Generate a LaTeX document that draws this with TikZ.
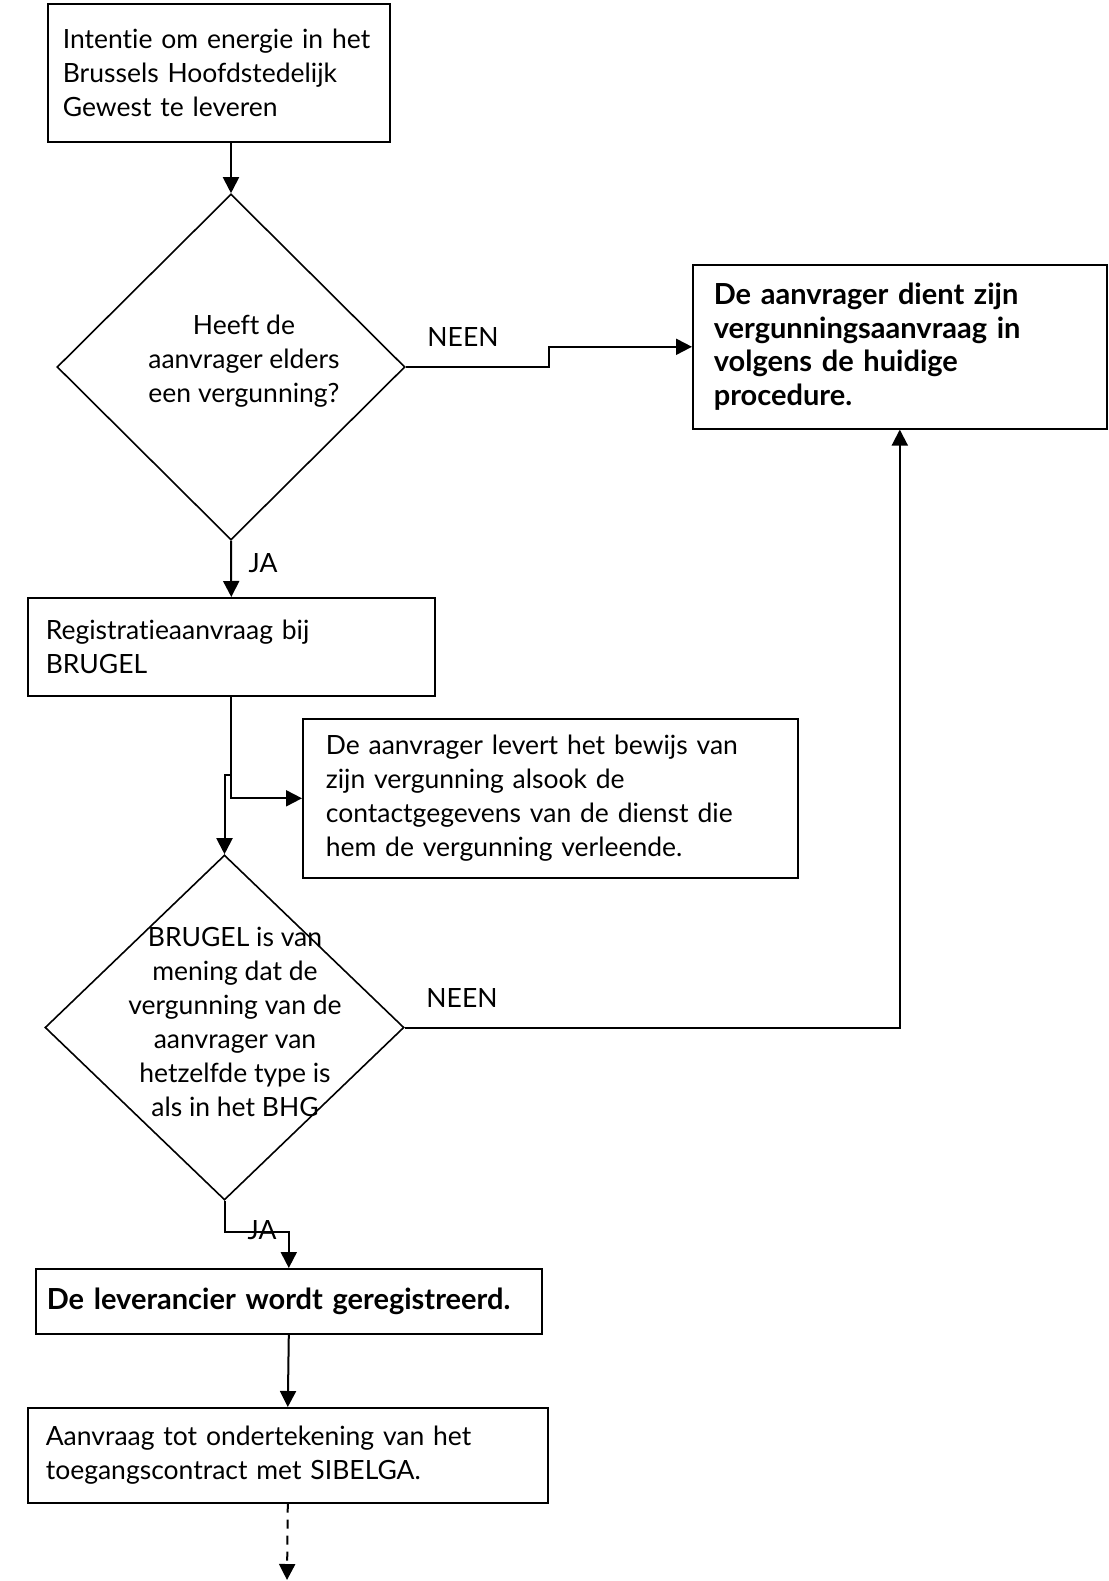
\documentclass[tikz,border=0pt]{standalone}
\usepackage{fontspec}
\setmainfont{Lato}[Ligatures=NoCommon]
\usetikzlibrary{shapes.geometric,arrows.meta}

\begin{document}
\begin{tikzpicture}[x=1pt,y=-1pt,
    font=\fontsize{26.5}{34}\selectfont,
    box/.style={draw, line width=1.6pt, rectangle, anchor=north west, align=left, inner ysep=0pt},
    strong/.style={font=\fontsize{29}{33.5}\selectfont\bfseries},
    ask/.style={draw, line width=1.6pt, diamond, inner sep=0pt},
    flow/.style={line width=2pt, -{Triangle[length=16pt,width=16pt]}}]
        \useasboundingbox (0,0) rectangle (1108,1581);

        % Boxes
        \node[box, minimum width=342pt, minimum height=138pt, text width=312pt, inner xsep=15pt] (intent) at (47,3)
            {Intentie om energie in het\\Brussels Hoofdstedelijk\\Gewest te leveren};
        \node[box, strong, minimum width=414pt, minimum height=164pt, text width=372pt, inner xsep=21pt] (own) at (692,264)
            {De aanvrager dient zijn\\vergunningsaanvraag in\\volgens de huidige\\procedure.};
        \node[box, minimum width=407pt, minimum height=98pt, text width=371pt, inner xsep=18pt] (reg) at (27,597)
            {Registratieaanvraag bij\\BRUGEL};
        \node[box, minimum width=495pt, minimum height=159pt, text width=449pt, inner xsep=23pt] (proof) at (302,718)
            {De aanvrager levert het bewijs van\\zijn vergunning alsook de\\contactgegevens van de dienst die\\hem de vergunning verleende.};
        \node[box, strong, minimum width=506pt, minimum height=65pt, text width=484pt, inner xsep=11pt] (done) at (35,1268)
            {De leverancier wordt geregistreerd.};
        \node[box, minimum width=520pt, minimum height=95pt, text width=484pt, inner xsep=18pt] (sign) at (27,1407)
            {Aanvraag tot ondertekening van het\\toegangscontract met SIBELGA.};

        % Questions
        \node[ask, minimum width=348pt, minimum height=346pt] (q1) at (231,367) {};
        \node[align=center] (q1text) at (244,361) {Heeft de\\aanvrager elders\\een vergunning?};
        \node[ask, minimum width=359pt, minimum height=345pt] (q2) at (224.5,1027.5) {};
        \node[align=center] (q2text) at (235,1022)
            {BRUGEL is van\\mening dat de\\vergunning van de\\aanvrager van\\hetzelfde type is\\als in het BHG};

        % Connectors
        \draw[flow] (intent.south -| q1.north) -- (q1.north);
        \draw[flow] (q1.east) -- ++(143,0) |- (own.west);
        \node (neen1) at (463,337) {NEEN};
        \draw[flow] (q1.south) -- (reg.north);
        \node (ja1) at (263,563) {JA};
        \draw[flow] (reg.south) |- (proof.west);
        \draw[flow] ([yshift=-78pt]reg.south) -| (q2.north);
        \draw[flow] (q2.east) -| (own.south);
        \node (neen2) at (462,998) {NEEN};
        \draw[flow] (q2.south) -- ++(0,31) -| (done.north);
        \node (ja2) at (262,1230) {JA};
        \draw[flow] (done.south) -- (sign.north);

        % Next step (dashed)
        \coordinate (next) at (287,1580);
        \draw[flow, dash pattern=on 9pt off 7pt] (sign.south) -- (next);
\end{tikzpicture}
\end{document}
